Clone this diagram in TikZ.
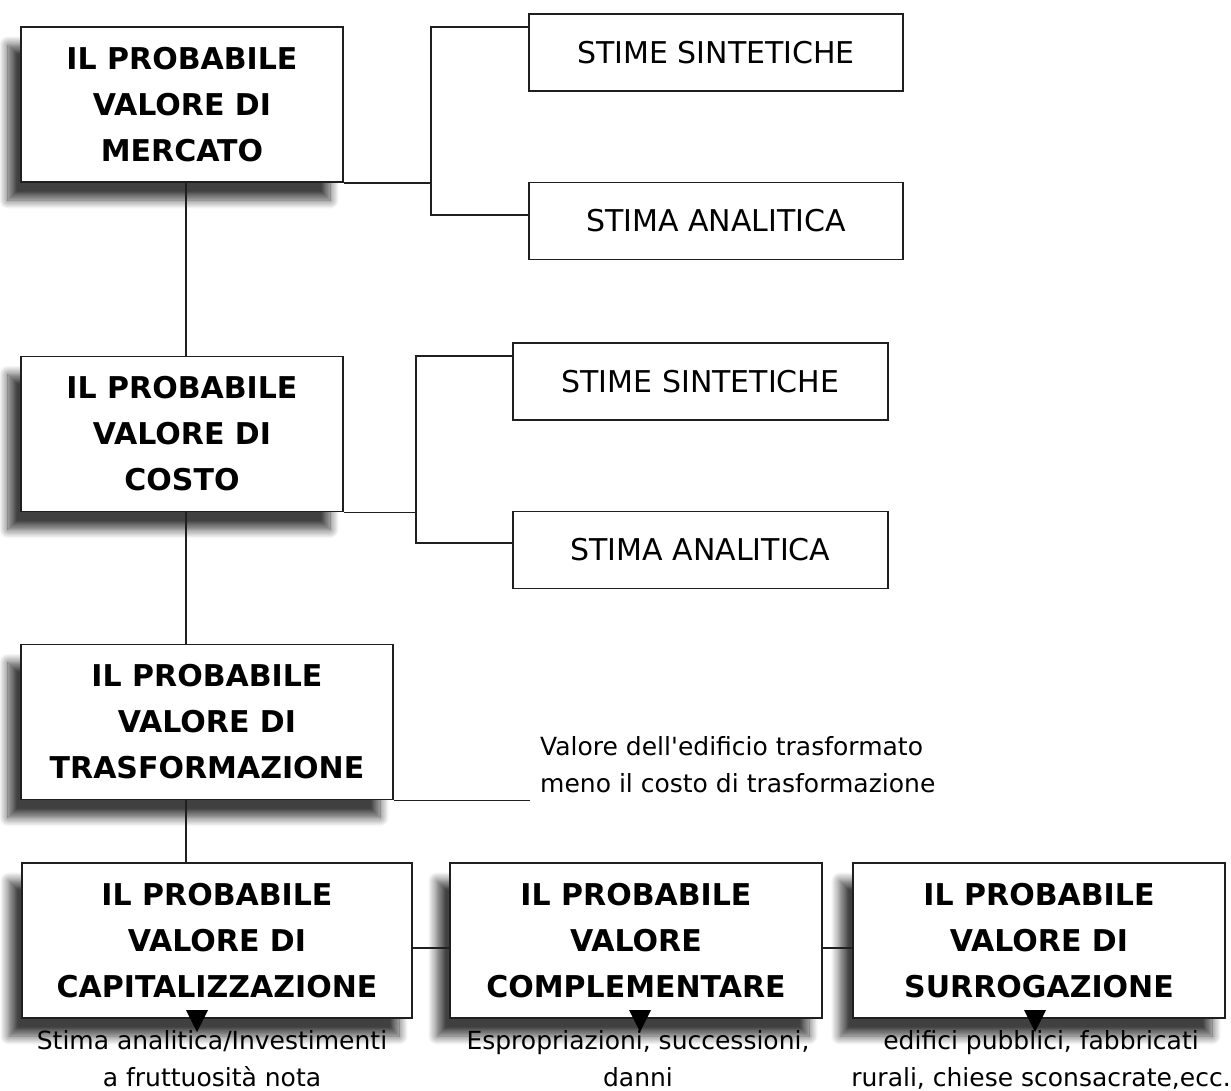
\documentclass[tikz,border=0pt]{standalone}
\usepackage{fontspec}
\setmainfont{DejaVu Sans}
\usetikzlibrary{shadows.blur}
\begin{document}
\begin{tikzpicture}[x=1pt,y=-1pt,
  mainbox/.style={draw=black!88, line width=1.8pt, fill=white,
    minimum width=#1, minimum height=155pt, inner sep=0pt, align=center,
    font=\fontsize{30}{46}\selectfont\bfseries,
    blur shadow={shadow xshift=-13pt, shadow yshift=-18pt,
      shadow blur radius=9pt, shadow blur steps=12, shadow opacity=75}},
  subbox/.style={draw=black!88, line width=1.5pt, fill=white,
    minimum width=374pt, minimum height=77pt, inner sep=0pt,
    font=\fontsize{30}{36}\selectfont},
  note/.style={inner sep=0pt, font=\fontsize{25}{37}\selectfont},
  conn/.style={draw=black!88, line width=1.4pt},
  tri/.style={fill=black}]
\useasboundingbox (0,0) rectangle (1231,1090);

% main boxes
\node[mainbox=322pt] (b1) at (182,104.5) {IL PROBABILE\\VALORE DI\\MERCATO};
\node[mainbox=322pt] (b2) at (182,434) {IL PROBABILE\\VALORE DI\\COSTO};
\node[mainbox=372pt] (b3) at (207,722) {IL PROBABILE\\VALORE DI\\TRASFORMAZIONE};
\node[mainbox=390pt] (b4) at (217,940.5) {IL PROBABILE\\VALORE DI\\CAPITALIZZAZIONE};
\node[mainbox=372pt] (b5) at (636,940.5) {IL PROBABILE\\VALORE\\COMPLEMENTARE};
\node[mainbox=372pt] (b6) at (1039,940.5) {IL PROBABILE\\VALORE DI\\SURROGAZIONE};

% sub boxes
\node[subbox] (ss1) at (716,52.5) {STIME SINTETICHE};
\node[subbox] (sa1) at (716,221) {STIMA ANALITICA};
\node[subbox, minimum width=375pt] (ss2) at (700.5,381.5) {STIME SINTETICHE};
\node[subbox, minimum width=375pt] (sa2) at (700.5,550) {STIMA ANALITICA};

% notes
\node[note, anchor=north west, align=left] (n3) at (540,736)
  {Valore dell\textquotesingle edificio trasformato\\meno il costo di trasformazione};
\node[note, anchor=north, align=center] (n4) at (212,1030)
  {Stima analitica/Investimenti\\a fruttuosità nota};
\node[note, anchor=north, align=center] (n5) at (638,1030)
  {Espropriazioni, successioni,\\danni};
\node[note, anchor=north, align=center] (n6) at (1041,1030)
  {edifici pubblici, fabbricati\\rurali, chiese sconsacrate,ecc.};

% helper coordinates
\coordinate (spine) at (186,0);
\coordinate (k1a) at (431,27);
\coordinate (k1b) at (431,215);
\coordinate (k2a) at (416,356);
\coordinate (k2b) at (416,543);
\coordinate (e3) at (530,0);
\coordinate (hb) at (0,948);
\coordinate (tip4) at (197,1032);
\coordinate (tip5) at (640,1032);
\coordinate (tip6) at (1035,1032);

% vertical spine
\draw[conn] (b1.south -| spine) -- (b2.north -| spine);
\draw[conn] (b2.south -| spine) -- (b3.north -| spine);
\draw[conn] (b3.south -| spine) -- (b4.north -| spine);

% branches to sub boxes
\draw[conn] (b1.south east) -- (b1.south east -| k1a);
\draw[conn] (ss1.west |- k1a) -- (k1a) -- (k1b) -- (sa1.west |- k1b);
\draw[conn] (b2.south east) -- (b2.south east -| k2a);
\draw[conn] (ss2.west |- k2a) -- (k2a) -- (k2b) -- (sa2.west |- k2b);

% transformation note
\draw[conn] (b3.south east) -- (b3.south east -| e3);

% bottom row
\draw[conn] (b4.east |- hb) -- (b5.west |- hb);
\draw[conn] (b5.east |- hb) -- (b6.west |- hb);

% arrow heads
\fill[tri] (tip4) -- ++(-11,-22) -- ++(22,0) -- cycle;
\fill[tri] (tip5) -- ++(-11,-22) -- ++(22,0) -- cycle;
\fill[tri] (tip6) -- ++(-11,-22) -- ++(22,0) -- cycle;
\end{tikzpicture}
\end{document}
